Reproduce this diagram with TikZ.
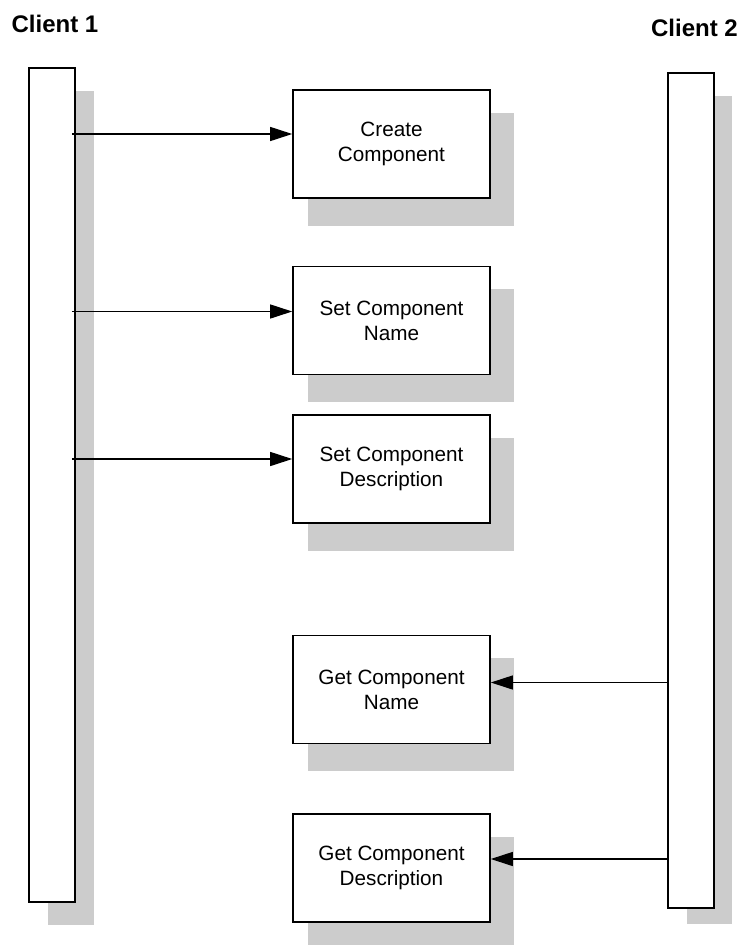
\documentclass[tikz,border=0pt]{standalone}
\usepackage{fontspec}
\setmainfont{Liberation Sans}
\usetikzlibrary{arrows.meta,shadows}

\tikzset{
  task/.style={draw, fill=white, line width=1.6pt, minimum width=197pt,
    minimum height=108pt, align=center, font=\fontsize{20.7}{25}\selectfont,
    drop shadow={shadow xshift=18.5pt, shadow yshift=-24pt, shadow scale=1.045,
      fill=black!20, opacity=1}},
  client/.style={draw, fill=white, line width=1.6pt, minimum width=46pt},
  title/.style={anchor=base, font=\fontsize{24}{28}\bfseries\selectfont},
  msg/.style={line width=1.2pt, -{Triangle[length=22pt,width=14pt]}}
}

\begin{document}
\begin{tikzpicture}[x=1pt, y=-1pt]
  \useasboundingbox (0,0) rectangle (741,945);
  \node[title] (c1name) at (55,32) {Client 1};
  \node[title] (c2name) at (694.5,36) {Client 2};
  \node[client, minimum height=834pt,
    drop shadow={shadow xshift=18.5pt, shadow yshift=-22.5pt,
      fill=black!20, opacity=1}] (c1bar) at (52,485) {};
  \node[client, minimum height=835pt,
    drop shadow={shadow xshift=18.5pt, shadow yshift=-19.5pt, shadow scale=0.992,
      fill=black!20, opacity=1}] (c2bar) at (691,490.5) {};

  \node[task] (create) at (391.5,144) {Create\\Component};
  \node[task] (setname) at (391.5,320.5) {Set Component\\Name};
  \node[task] (setdesc) at (391.5,469) {Set Component\\Description};
  \node[task] (getname) at (391.5,689.5) {Get Component\\Name};
  \node[task] (getdesc) at (391.5,868) {Get Component\\Description};

  \coordinate (m1) at ([yshift=10pt]create.west);
  \coordinate (m2) at ([yshift=9pt]setname.west);
  \coordinate (m3) at ([yshift=10pt]setdesc.west);
  \coordinate (m4) at ([yshift=7pt]getname.east);
  \coordinate (m5) at ([yshift=9pt]getdesc.east);
  \draw[msg, shorten <=-4pt] (c1bar.east |- m1) -- (m1);
  \draw[msg, shorten <=-4pt] (c1bar.east |- m2) -- (m2);
  \draw[msg, shorten <=-4pt] (c1bar.east |- m3) -- (m3);
  \draw[msg] (c2bar.west |- m4) -- (m4);
  \draw[msg] (c2bar.west |- m5) -- (m5);
\end{tikzpicture}
\end{document}
